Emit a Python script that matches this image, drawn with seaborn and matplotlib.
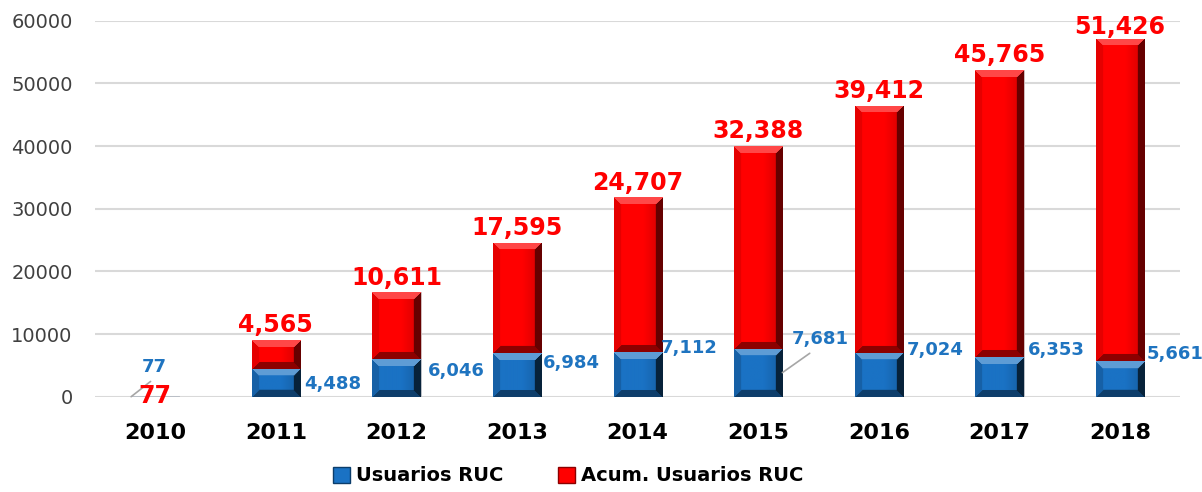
import numpy as np
import pandas as pd
import seaborn as sns
import matplotlib.pyplot as plt
from matplotlib.patches import Patch
from matplotlib.colors import to_rgb

# Data
years = ['2010', '2011', '2012', '2013', '2014', '2015', '2016', '2017', '2018']
usuarios = [77, 4488, 6046, 6984, 7112, 7681, 7024, 6353, 5661]
acumulado = [77, 4565, 10611, 17595, 24707, 32388, 39412, 45765, 51426]
yticks = [0, 10000, 20000, 30000, 40000, 50000, 60000]

df = pd.DataFrame({'year': years, 'usuarios': usuarios, 'acum': acumulado})
df['total'] = df['usuarios'] + df['acum']

BLUE = '#1a72c4'
RED = '#ff0000'
LABEL_BLUE = '#1f74c0'

sns.set_theme(style='white')
plt.rcParams['font.family'] = ['DejaVu Sans']

fig, ax = plt.subplots(figsize=(12.02, 4.92), dpi=100)
fig.subplots_adjust(left=0.079, right=0.982, bottom=0.1937, top=0.958)

bar_w = 0.4
# red stacked segment drawn as full total, blue on top of it from zero
sns.barplot(data=df, x='year', y='total', color=RED, width=bar_w, saturation=1,
            ax=ax, edgecolor='#c8c8c8', linewidth=0.6)
sns.barplot(data=df, x='year', y='usuarios', color=BLUE, width=bar_w, saturation=1,
            ax=ax, edgecolor='#c8c8c8', linewidth=0.6)

ax.set_xlim(-0.5, 8.5)
ax.set_ylim(0, 60000)


def bevel(patch, y0, y1, base, top_mix, side_l, side_r, bot, z):
    # fake the excel bevel look with a small clipped image over the bar
    x0 = patch.get_x()
    w = patch.get_width()
    p0 = ax.transData.transform((x0, y0))
    p1 = ax.transData.transform((x0 + w, y1))
    nx = max(int(round(p1[0] - p0[0])), 2)
    ny = max(int(round(p1[1] - p0[1])), 2)
    xs = np.arange(nx) + 0.5
    ys = np.arange(ny) + 0.5
    X, Y = np.meshgrid(xs, ys)
    d = np.stack([Y, X, nx - X, ny - Y])  # top, left, right, bottom
    b = min(7, ny / 2.0, nx / 2.0)
    face = np.min(d, axis=0) >= b
    which = np.argmin(d, axis=0)
    c = np.array(to_rgb(base))
    img = np.ones((ny, nx, 3)) * c
    white = np.ones(3)
    img[(which == 0) & ~face] = c * (1 - top_mix) + white * top_mix
    img[(which == 1) & ~face] = c * side_l
    img[(which == 2) & ~face] = c * side_r
    img[(which == 3) & ~face] = c * bot
    # slight darkening toward the right on the face
    shade = 1 - 0.18 * np.clip((X / nx - 0.6) / 0.4, 0, 1)
    img = img * np.where(face, shade, 1.0)[..., None]
    im = ax.imshow(np.clip(img, 0, 1), extent=(x0, x0 + w, y0, y1), origin='upper',
                   aspect='auto', interpolation='bilinear', zorder=z)
    im.set_clip_path(patch)


n = len(years)
red_patches = ax.patches[:n]
blue_patches = ax.patches[n:2 * n]
for i in range(n):
    if acumulado[i] > 1000:
        bevel(red_patches[i], usuarios[i], usuarios[i] + acumulado[i], RED,
              0.28, 0.9, 0.4, 0.55, 2)
    if usuarios[i] > 1000:
        bevel(blue_patches[i], 0, usuarios[i], BLUE, 0.3, 0.85, 0.3, 0.55, 3)

ax.set_xlim(-0.5, 8.5)
ax.set_ylim(0, 60000)

# red labels above the bars
red_dy = [-9, 2, 2, 2, 2, 2, 2, 2, 0]
for i in range(n):
    ax.annotate(f'{acumulado[i]:,}', xy=(i, usuarios[i] + acumulado[i]),
                xytext=(0, red_dy[i]), textcoords='offset points',
                ha='center', va='bottom', color=RED, fontsize=17,
                fontweight='bold', zorder=5, annotation_clip=False)

# blue labels to the right of the bars (manual excel placement)
blue_dx = [0, 3, 5, 1.5, -0.7, 7, 3, 3, 2]
blue_dy = [21, -11, -8.8, -7.3, 3, 24.5, 2, 5, 5.2]
grey = '#a6a6a6'
for i in range(n):
    if i == 0:
        ax.annotate(f'{usuarios[i]:,}', xy=(i, usuarios[i]),
                    xytext=(-1, blue_dy[i]), textcoords='offset points',
                    ha='center', va='center', color=LABEL_BLUE, fontsize=13,
                    fontweight='bold', zorder=5)
        # leader line from the label down to the tiny bar
        ax.annotate('', xy=(i - bar_w / 2, 0), xytext=(14, 11),
                    textcoords='offset points',
                    arrowprops=dict(arrowstyle='-', color=grey, lw=1.2,
                                    shrinkA=0, shrinkB=0), zorder=4)
        continue
    if i == 5:
        ax.annotate(f'{usuarios[i]:,}', xy=(i + bar_w / 2, usuarios[i] * 0.5),
                    xytext=(blue_dx[i], blue_dy[i]), textcoords='offset points',
                    ha='left', va='center', color=LABEL_BLUE, fontsize=13,
                    fontweight='bold', zorder=5,
                    arrowprops=dict(arrowstyle='-', color=grey, lw=1.2,
                                    shrinkA=3, shrinkB=0, relpos=(0.45, 0)))
        continue
    ax.annotate(f'{usuarios[i]:,}', xy=(i + bar_w / 2, usuarios[i]),
                xytext=(blue_dx[i], blue_dy[i]), textcoords='offset points',
                ha='left', va='center', color=LABEL_BLUE, fontsize=13,
                fontweight='bold', zorder=5, annotation_clip=False)

ax.set_yticks(yticks)
ax.set_yticklabels([str(v) for v in yticks], fontsize=14, color='#404040')
ax.set_xticks(range(n))
ax.set_xticklabels(years, fontsize=16, fontweight='bold', color='black')
ax.tick_params(axis='x', length=0, pad=19)
ax.tick_params(axis='y', length=0, pad=16)
ax.set_xlabel('')
ax.set_ylabel('')
ax.grid(axis='y', color='#d9d9d9', linewidth=1.5)
ax.set_axisbelow(True)
for s in ax.spines.values():
    s.set_visible(False)

handles = [Patch(facecolor=BLUE, edgecolor='#0b3d6b', label='Usuarios RUC'),
           Patch(facecolor=RED, edgecolor='#8b0000', label='Acum. Usuarios RUC')]
fig.legend(handles=handles, loc='lower center', bbox_to_anchor=(0.4725, -0.022), ncol=2,
           frameon=False, prop={'weight': 'bold', 'size': 14}, labelcolor='black',
           handlelength=0.9, handleheight=0.9, handletextpad=0.3, columnspacing=2.8)

fig.savefig('out.png', dpi=100)
